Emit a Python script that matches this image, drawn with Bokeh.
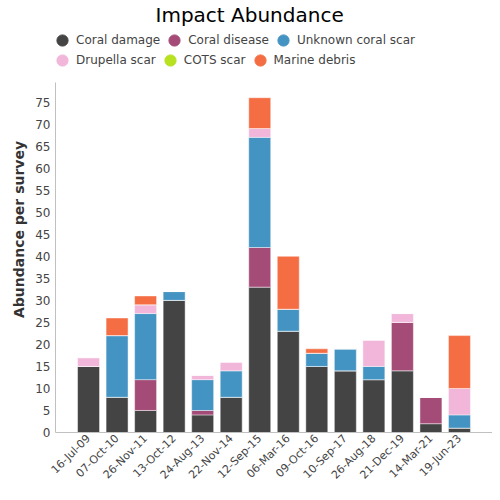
from bokeh.plotting import figure
from bokeh.models import ColumnDataSource, FactorRange, Legend, LegendItem, Range1d
from bokeh.embed import file_html
from bokeh.resources import INLINE

dates = ["16-Jul-09", "07-Oct-10", "26-Nov-11", "13-Oct-12", "24-Aug-13", "22-Nov-14",
         "12-Sep-15", "06-Mar-16", "09-Oct-16", "10-Sep-17", "26-Aug-18", "21-Dec-19",
         "14-Mar-21", "19-Jun-23"]
coral_damage = [15, 8, 5, 30, 4, 8, 33, 23, 15, 14, 12, 14, 2, 1]
coral_disease = [0, 0, 7, 0, 1, 0, 9, 0, 0, 0, 0, 11, 6, 0]
unknown_scar = [0, 14, 15, 2, 7, 6, 25, 5, 3, 5, 3, 0, 0, 3]
drupella_scar = [2, 0, 2, 0, 1, 2, 2, 0, 0, 0, 6, 2, 0, 6]
cots_scar = [0, 0, 0, 0, 0, 0, 0, 0, 0, 0, 0, 0, 0, 0]
marine_debris = [0, 4, 2, 0, 0, 0, 7, 12, 1, 0, 0, 0, 0, 12]

series = ["Coral damage", "Coral disease", "Unknown coral scar", "Drupella scar", "COTS scar", "Marine debris"]
keys = ["damage", "disease", "unknown", "drupella", "cots", "debris"]
colors = ["#444444", "#a44c77", "#4393c3", "#f1b6da", "#b8e122", "#f46d43"]
y_ticks = list(range(0, 80, 5))
y_axis_max = 79.5

src = ColumnDataSource(dict(date=dates, damage=coral_damage, disease=coral_disease,
                            unknown=unknown_scar, drupella=drupella_scar,
                            cots=cots_scar, debris=marine_debris))

# the frame extends above the axis to host the legend rows; the axis line stops at y_axis_max
p = figure(x_range=FactorRange(*dates, range_padding=0.094, range_padding_units="percent"),
           y_range=Range1d(0, 92.17),
           width=492, height=492, output_backend="svg", toolbar_location=None,
           title="Impact Abundance",
           min_border_left=55, min_border_right=0, min_border_bottom=60, min_border_top=24)

p.vbar_stack(keys, x="date", width=0.77, source=src, color=colors,
             line_color="white", line_alpha=0.45, line_width=1)

# legend proxies (circles), kept outside the visible y range
dummies = []
for c in colors:
    r = p.scatter(x=[dates[0]], y=[-100], marker="circle", size=11, fill_color=c, line_color=c)
    dummies.append(r)

def make_legend(idx, loc):
    return Legend(items=[LegendItem(label=series[i], renderers=[dummies[i]]) for i in idx],
                  orientation="horizontal", location=loc,
                  glyph_width=28, glyph_height=28, label_standoff=-4, spacing=-1,
                  padding=0, margin=0, border_line_color=None,
                  background_fill_alpha=0,
                  label_text_font="DejaVu Sans", label_text_font_size="12px",
                  label_text_color="#444444", label_height=12)

p.add_layout(make_legend([0, 1, 2], (-7, 378)))
p.add_layout(make_legend([3, 4, 5], (-7, 358)))

p.title.text_font = "DejaVu Sans"
p.title.text_font_size = "20px"
p.title.text_font_style = "normal"
p.title.text_color = "#000000"
p.title.align = "left"
p.title.offset = 100
p.title.standoff = 0

p.xgrid.visible = False
p.ygrid.visible = False
p.outline_line_color = None

p.yaxis.ticker = y_ticks
p.yaxis.bounds = (0, y_axis_max)
p.yaxis.axis_label = "Abundance per survey"
p.yaxis.axis_label_text_font = "DejaVu Sans"
p.yaxis.axis_label_text_font_size = "14px"
p.yaxis.axis_label_text_font_style = "bold"
p.yaxis.axis_label_text_color = "#333333"
p.yaxis.axis_label_standoff = 5
p.yaxis.major_label_text_font = "DejaVu Sans"
p.yaxis.major_label_text_font_size = "12px"
p.yaxis.major_label_text_color = "#444444"
p.yaxis.major_tick_line_color = None
p.yaxis.major_tick_out = 0
p.yaxis.major_tick_in = 0
p.yaxis.minor_tick_line_color = None
p.yaxis.major_label_standoff = 5
p.yaxis.axis_line_color = "#c0c0c0"

p.xaxis.major_label_orientation = 0.785398
p.xaxis.major_label_text_font = "DejaVu Sans"
p.xaxis.major_label_text_font_size = "11px"
p.xaxis.major_label_text_color = "#444444"
p.xaxis.major_tick_line_color = None
p.xaxis.major_tick_out = 0
p.xaxis.major_tick_in = 0
p.xaxis.minor_tick_line_color = None
p.xaxis.major_label_standoff = 4
p.xaxis.axis_line_color = "#c0c0c0"

open("out.html", "w").write(file_html(p, INLINE))
